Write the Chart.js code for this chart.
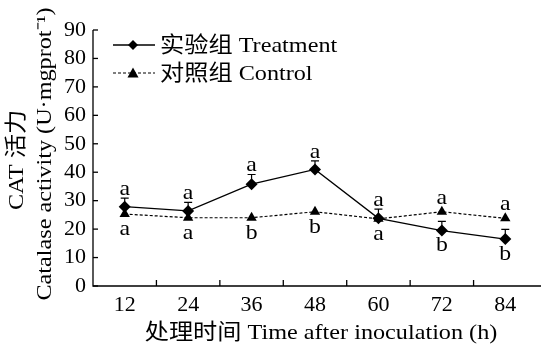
<!DOCTYPE html>
<html><head><meta charset="utf-8">
<script src="https://cdn.jsdelivr.net/npm/chart.js@4.4.0/dist/chart.umd.min.js"></script>
<style>html,body{margin:0;padding:0;background:#fff;overflow:hidden}#wrap{width:543px;height:346px}</style>
</head><body><div id="wrap"><canvas id="c"></canvas></div>
<script>
const categories = ['12','24','36','48','60','72','84'];
const treatment = [27.9, 26.4, 35.8, 41.0, 23.8, 19.5, 16.5];
const treatmentErr = [3.0, 3.0, 3.4, 3.0, 3.2, 3.2, 3.4];
const control = [25.3, 24.0, 24.0, 26.1, 23.6, 26.1, 23.8];
const treatmentLetters = ['a','a','a','a','a','b','b'];
const controlLetters = ['a','a','b','b','a','a','a'];
const yTicks = [0,10,20,30,40,50,60,70,80,90];
const legendLabels = ['实验组 Treatment', '对照组 Control'];
const yTitle = ['CAT 活力', 'Catalase activity (U·mgprot⁻¹)'];
const xTitle = '处理时间 Time after inoculation (h)';

const SERIF = '"Liberation Serif", "Noto Sans CJK SC", serif';
const F = (s) => s + 'px ' + SERIF;

function stretchText(ctx, text, x, y, rot, sx, align) {
  ctx.save();
  ctx.translate(x, y);
  if (rot) ctx.rotate(rot);
  ctx.scale(sx, 1);
  ctx.textAlign = align;
  ctx.fillText(text, 0, 0);
  ctx.restore();
}

const deco = {
  id: 'deco',
  afterDatasetsDraw(chart) {
    const ctx = chart.ctx, x = chart.scales.x, y = chart.scales.y, a = chart.chartArea;
    ctx.save();
    ctx.strokeStyle = '#000'; ctx.fillStyle = '#000'; ctx.lineWidth = 1.3;
    ctx.beginPath();
    ctx.moveTo(a.left, y.getPixelForValue(90)); ctx.lineTo(a.left, a.bottom); ctx.lineTo(a.right + 5, a.bottom);
    ctx.stroke();
    yTicks.forEach(v => { const py = y.getPixelForValue(v); ctx.beginPath(); ctx.moveTo(a.left, py); ctx.lineTo(a.left + 5, py); ctx.stroke(); });
    for (let i = 1; i < categories.length; i++) {
      const px = (x.getPixelForValue(i - 1) + x.getPixelForValue(i)) / 2;
      ctx.beginPath(); ctx.moveTo(px, a.bottom); ctx.lineTo(px, a.bottom - 6); ctx.stroke();
    }
    ctx.lineWidth = 1.2;
    treatment.forEach((v, i) => {
      const px = x.getPixelForValue(i), p0 = y.getPixelForValue(v), p1 = y.getPixelForValue(v + treatmentErr[i]);
      ctx.beginPath(); ctx.moveTo(px, p0); ctx.lineTo(px, p1); ctx.moveTo(px - 4, p1); ctx.lineTo(px + 4, p1); ctx.stroke();
    });
    ctx.font = F(22); ctx.textAlign = 'center';
    treatment.forEach((v, i) => {
      const px = x.getPixelForValue(i);
      if (v >= control[i]) {
        ctx.textBaseline = 'alphabetic';
        stretchText(ctx, treatmentLetters[i], px, y.getPixelForValue(v + treatmentErr[i]) - 3, 0, 1.08, 'center');
        ctx.textBaseline = 'top';
        stretchText(ctx, controlLetters[i], px, y.getPixelForValue(control[i]) + 4, 0, 1.08, 'center');
      } else {
        ctx.textBaseline = 'alphabetic';
        stretchText(ctx, controlLetters[i], px, y.getPixelForValue(control[i]) - 8, 0, 1.08, 'center');
        ctx.textBaseline = 'top';
        stretchText(ctx, treatmentLetters[i], px, y.getPixelForValue(v) + 4, 0, 1.08, 'center');
      }
    });
    const rows = [45, 73];
    chart.data.datasets.forEach((ds, i) => {
      const ry = rows[i];
      ctx.strokeStyle = '#000'; ctx.lineWidth = ds.borderWidth;
      ctx.setLineDash(ds.borderDash || []);
      ctx.beginPath(); ctx.moveTo(113, ry); ctx.lineTo(155, ry); ctx.stroke();
      ctx.setLineDash([]);
      ctx.beginPath();
      if (ds.pointStyle === 'rectRot') {
        const r = 5; ctx.moveTo(133, ry - r); ctx.lineTo(133 + r, ry); ctx.lineTo(133, ry + r); ctx.lineTo(133 - r, ry);
      } else {
        const r = 5.5; ctx.moveTo(133, ry - r); ctx.lineTo(133 + r, ry + r * 0.8); ctx.lineTo(133 - r, ry + r * 0.8);
      }
      ctx.closePath(); ctx.fill();
      ctx.font = F(22); ctx.textBaseline = 'middle';
      stretchText(ctx, legendLabels[i], 160, ry + 1, 0, 1.1, 'left');
    });
    ctx.font = F(22); ctx.textBaseline = 'middle';
    stretchText(ctx, xTitle, 321, 333, 0, 1.1, 'center');
    stretchText(ctx, yTitle[0], 17, 160, -Math.PI / 2, 1.1, 'center');
    stretchText(ctx, yTitle[1], 45, 154, -Math.PI / 2, 1.1, 'center');
    ctx.restore();
  }
};

new Chart(document.getElementById('c'), {
  type: 'line',
  data: {
    labels: categories,
    datasets: [
      { label: legendLabels[0], data: treatment, borderColor: '#000', backgroundColor: '#000', borderWidth: 1.3,
        pointStyle: 'rectRot', pointRadius: 6, pointBorderWidth: 0, tension: 0 },
      { label: legendLabels[1], data: control, borderColor: '#000', backgroundColor: '#000', borderWidth: 1.2,
        borderDash: [3, 2], pointStyle: 'triangle', pointRadius: 6, pointBorderWidth: 0, tension: 0 }
    ]
  },
  options: {
    responsive: true, maintainAspectRatio: false, animation: false,
    layout: { padding: { top: 30, right: 0, left: 0, bottom: 0 } },
    plugins: { legend: { display: false }, tooltip: { enabled: false } },
    scales: {
      x: {
        offset: true,
        grid: { display: false, drawTicks: false },
        border: { display: false },
        ticks: { color: '#000', font: { family: SERIF, size: 22 }, padding: 6, maxRotation: 0, autoSkip: false },
        afterFit: (s) => { s.height = 60; }
      },
      y: {
        min: 0, max: 90,
        grid: { display: false, drawTicks: false },
        border: { display: false },
        ticks: { stepSize: 10, color: '#000', font: { family: SERIF, size: 22 }, padding: 7, autoSkip: false },
        afterFit: (s) => { s.width = 93; }
      }
    }
  },
  plugins: [deco]
});
</script></body></html>
